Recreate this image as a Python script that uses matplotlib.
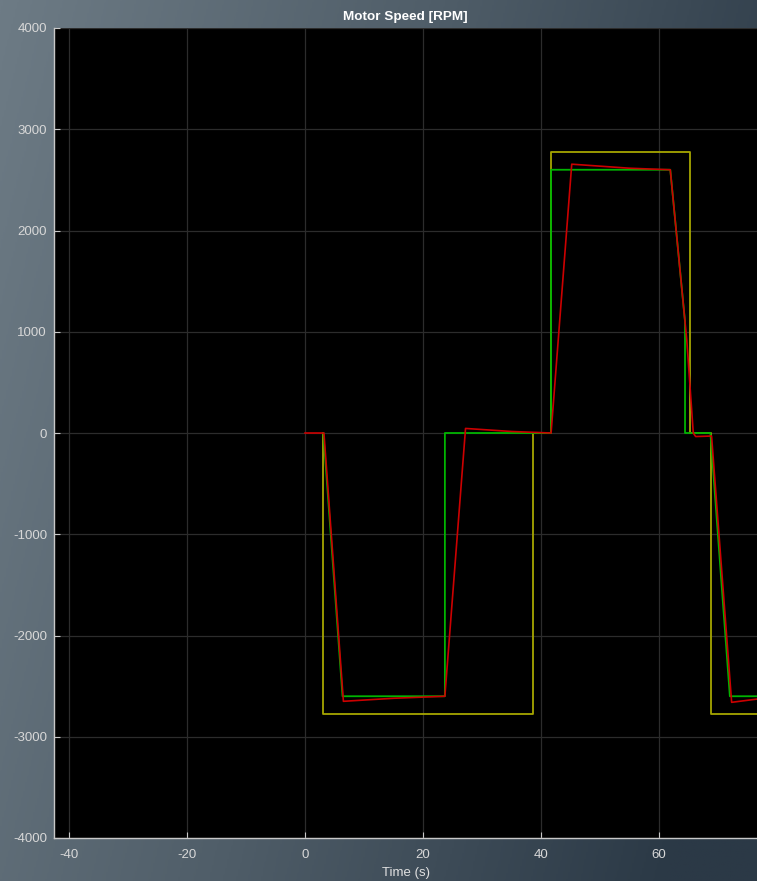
import numpy as np
import matplotlib
matplotlib.use("Agg")
import matplotlib.pyplot as plt
from matplotlib.colors import LinearSegmentedColormap

plt.rcParams['font.family'] = ['Liberation Sans', 'DejaVu Sans']
plt.rcParams['axes.unicode_minus'] = False

# Setpoint (yellow), reference ramp (green) and measured speed (red)
setpoint_t = [3.05, 3.05, 38.6, 38.6, 41.7, 41.7, 65.3, 65.3, 68.8, 68.8, 77.0]
setpoint_rpm = [0, -2780, -2780, 0, 0, 2780, 2780, 0, 0, -2780, -2780]

ramp_t = [3.1, 6.35, 23.7, 23.7, 41.7, 41.7, 61.9, 64.4, 64.4, 68.7, 72.0, 77.0]
ramp_rpm = [0, -2600, -2600, 0, 0, 2600, 2600, 1100, 0, 0, -2600, -2600]

speed_t = [0.0, 3.2, 6.5, 15.0, 23.7, 27.2, 35.0, 41.7, 45.2, 55.0, 61.9, 64.7,
           65.8, 66.2, 68.9, 72.3, 77.0]
speed_rpm = [0, 0, -2650, -2620, -2600, 45, 15, 0, 2655, 2615, 2600, 918,
             0, -35, -30, -2660, -2625]

x_ticks = [-40, -20, 0, 20, 40, 60]
y_ticks = [-4000, -3000, -2000, -1000, 0, 1000, 2000, 3000, 4000]

fig = plt.figure(figsize=(7.57, 8.81), dpi=100)

# Brushed-slate backdrop
bg = fig.add_axes([0, 0, 1, 1], zorder=-10)
gx, gy = np.meshgrid(np.linspace(0, 1, 400), np.linspace(0, 1, 400))
grad = np.clip(0.85 * gx + 0.25 * gy, 0, 1)
cmap = LinearSegmentedColormap.from_list("slate", ["#6d7b85", "#4f5d68", "#2b3946"])
bg.imshow(grad, cmap=cmap, aspect="auto", extent=[0, 1, 0, 1], origin="upper")
bg.set_axis_off()

ax = fig.add_axes([54 / 757, 1 - 838 / 881, 1 - 54 / 757, (838 - 28) / 881])
ax.set_facecolor("black")
ax.set_xlim(-42.55, 76.6)
ax.set_ylim(-4000, 4000)
ax.set_xticks(x_ticks)
ax.set_yticks(y_ticks)
ax.grid(True, color="#2c2c2c", linewidth=0.9)
ax.set_axisbelow(True)

ax.plot(setpoint_t, setpoint_rpm, color="#a6a600", linewidth=1.3, zorder=2)
ax.plot(ramp_t, ramp_rpm, color="#00b400", linewidth=1.3, zorder=3)
ax.plot(speed_t, speed_rpm, color="#cc0000", linewidth=1.2, zorder=4)

for side in ("top", "right"):
    ax.spines[side].set_visible(False)
for side in ("left", "bottom"):
    ax.spines[side].set_color("#c8c8c8")
    ax.spines[side].set_linewidth(1.0)
ax.tick_params(direction="in", length=4, color="#c8c8c8", labelcolor="#d8d8d8",
               labelsize=9.5)
ax.tick_params(axis="y", pad=5)
ax.tick_params(axis="x", pad=8)

ax.set_title("Motor Speed [RPM]", color="white", fontsize=9.7, fontweight="bold", pad=6)
ax.set_xlabel("Time (s)", color="#e0e0e0", fontsize=9.5, labelpad=4.5)

fig.savefig("out.png", dpi=100, facecolor="#4f5d68")
